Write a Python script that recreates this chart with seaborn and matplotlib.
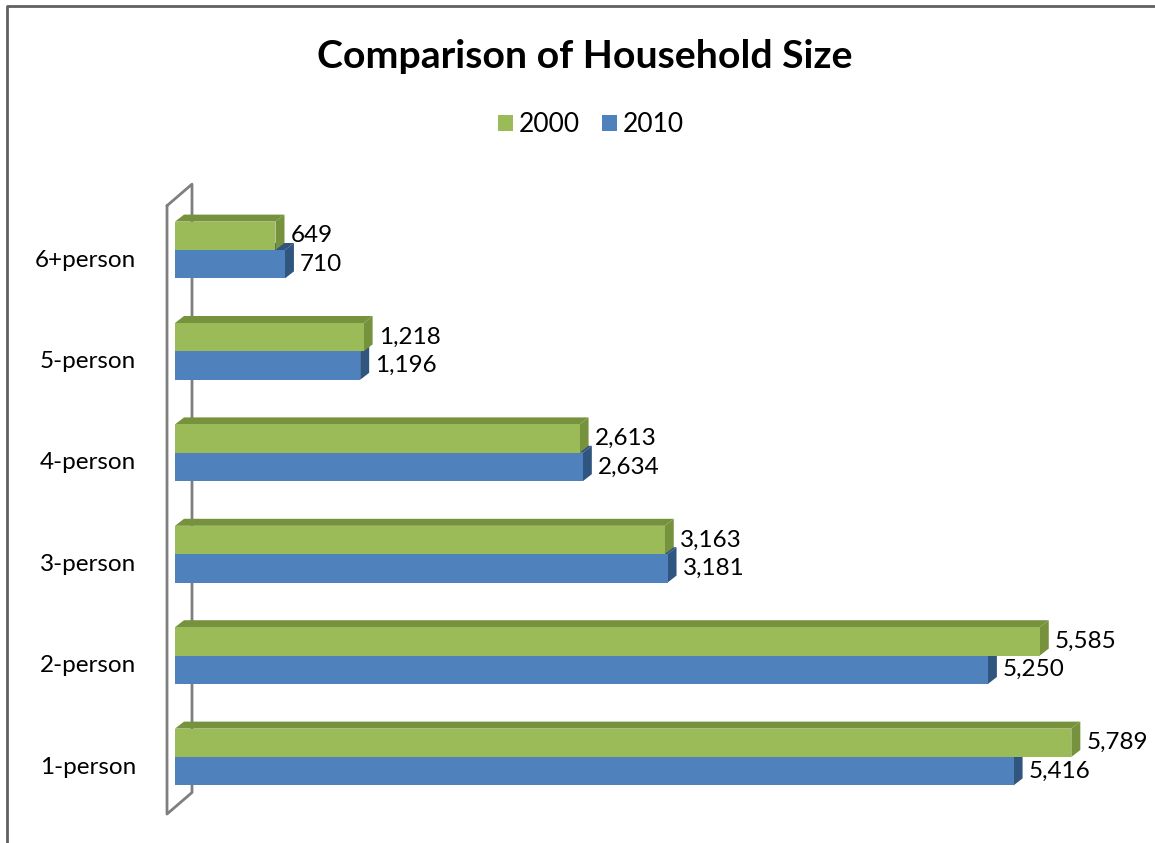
import pandas as pd
import seaborn as sns
import matplotlib.pyplot as plt
from matplotlib.patches import Polygon
from matplotlib.lines import Line2D
from matplotlib.transforms import ScaledTranslation

# ---- data ----
sizes = ['6+person', '5-person', '4-person', '3-person', '2-person', '1-person']
hh_2000 = [649, 1218, 2613, 3163, 5585, 5789]
hh_2010 = [710, 1196, 2634, 3181, 5250, 5416]
years = ['2000', '2010']

df = pd.DataFrame({
    'size': sizes * 2,
    'year': ['2000'] * len(sizes) + ['2010'] * len(sizes),
    'households': hh_2000 + hh_2010,
})

sns.set_style('white')
plt.rcParams['font.family'] = ['Lato', 'DejaVu Sans']
plt.rcParams['text.color'] = 'black'
plt.rcParams['ytick.color'] = 'black'

front = {'2000': '#9BBB59', '2010': '#4F81BD'}
dark = {'2000': '#76923C', '2010': '#30557F'}

W, H = 1155, 843
AX_H = 608.4
fig = plt.figure(figsize=(W / 100, H / 100), dpi=100)
ax = fig.add_axes([175 / W, (H - 807.7) / H, 929 / W, AX_H / H])

sns.barplot(data=df, y='size', x='households', hue='year', order=sizes,
            hue_order=years, palette=front, width=0.56, orient='h',
            saturation=1, linewidth=0, ax=ax, zorder=3)
ax.set_xlim(0, 6000)
ax.set_ylim(5.5, -0.5)

# fake 3D depth faces (Excel style)
dx = 9 / (929 / 6000)
dy = 7 / (AX_H / 6)
for cont, yr in zip(ax.containers, years):
    for bar in cont:
        x1 = bar.get_width()
        yt = bar.get_y()
        yb = yt + bar.get_height()
        top = [(0, yt), (x1, yt), (x1 + dx, yt - dy), (dx, yt - dy)]
        side = [(x1, yt), (x1, yb), (x1 + dx, yb - dy), (x1 + dx, yt - dy)]
        z = 2 if yr == '2010' else 2.5
        ax.add_patch(Polygon(top, closed=True, fc=dark[yr], ec='none', zorder=z))
        ax.add_patch(Polygon(side, closed=True, fc=dark[yr], ec='none', zorder=z))
    ax.bar_label(cont, fmt='{:,.0f}', padding=11, fontsize=17.5, zorder=5)

# wall at the left
wall = [(-0.0086, 0.9895), (-0.0086, -0.0104), (0.0183, 0.025),
        (0.0183, 1.0249), (-0.0086, 0.9895)]
ax.add_line(Line2D([p[0] for p in wall], [p[1] for p in wall],
                   transform=ax.transAxes, color='#7F7F7F', lw=2,
                   clip_on=False, zorder=1))

for s in ax.spines.values():
    s.set_visible(False)
ax.set_xticks([])
ax.set_xlabel('')
ax.set_ylabel('')
ax.tick_params(axis='y', length=0, pad=28, labelsize=17.5)
# category labels sit a little lower in the 3D view
shift = ScaledTranslation(0, -8 / 100, fig.dpi_scale_trans)
for lab in ax.get_yticklabels():
    lab.set_transform(lab.get_transform() + shift)

handles, labels = ax.get_legend_handles_labels()
ax.get_legend().remove()
fig.legend(handles, labels, loc='center', bbox_to_anchor=(591 / W, 1 - 125 / H),
           ncol=2, frameon=False, fontsize=19, handlelength=0.57,
           handleheight=0.57, handletextpad=0.2, columnspacing=0.85)

fig.text(585 / W, 1 - 57 / H, 'Comparison of Household Size',
         ha='center', va='center', fontsize=28.3, fontweight='bold')

# outer chart border (left and top visible)
fig.add_artist(Line2D([7 / W, 7 / W, 1], [0, 1 - 6 / H, 1 - 6 / H],
                      transform=fig.transFigure, color='#606060', lw=2))

fig.savefig('out.png', dpi=100)
